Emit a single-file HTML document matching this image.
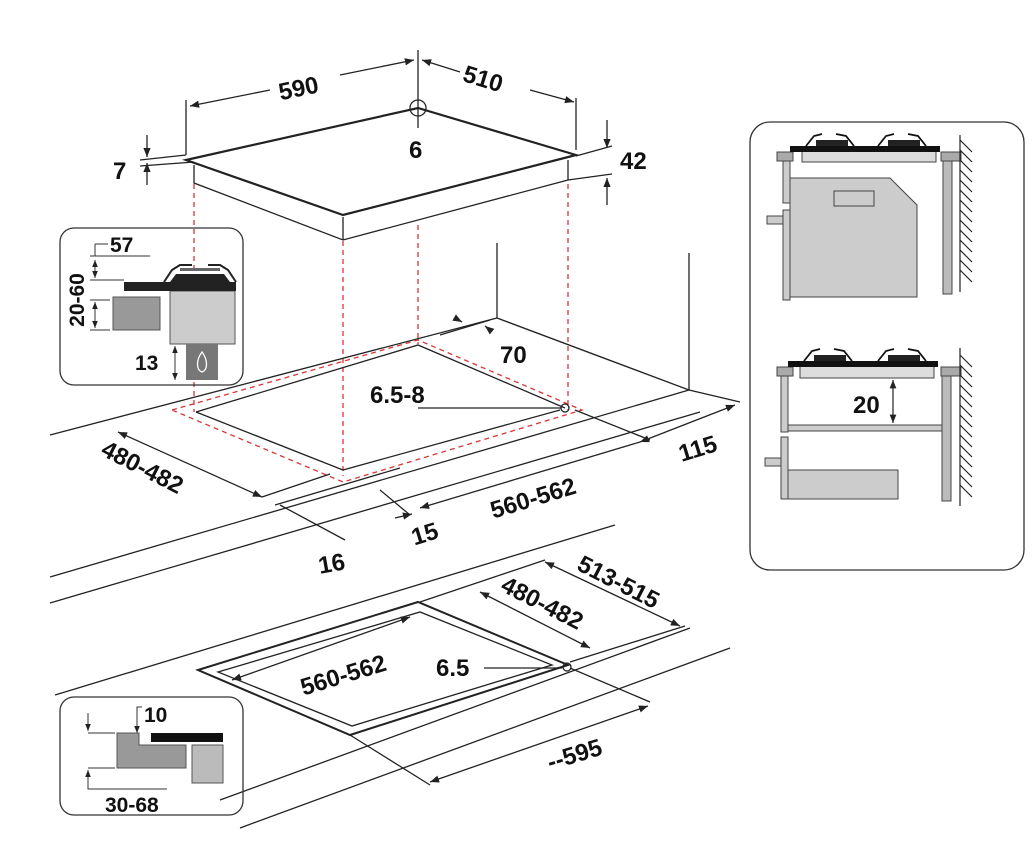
<!DOCTYPE html>
<html><head><meta charset="utf-8"><style>
html,body{margin:0;padding:0;background:#fff;}
svg{display:block}
text{font-family:"Liberation Sans",sans-serif;font-weight:bold;font-size:24px;fill:#111;}
</style></head><body>
<svg width="1032" height="856" viewBox="0 0 1032 856" xmlns="http://www.w3.org/2000/svg">
<defs>
<marker id="a" viewBox="0 0 10 10" refX="10" refY="5" markerWidth="7" markerHeight="7" orient="auto-start-reverse"><path d="M0,1 L10,5 L0,9 z" fill="#222"/></marker>
</defs>
<g stroke="#222" fill="none" stroke-width="1.3">
<path d="M186,160 L418,108 L576,155 L343,215 Z" stroke-width="2.2" fill="#fff"/>
<path d="M194,165 L194,183 L343,240 L568,180 L568,160"/>
<path d="M343,217 L343,240"/>
<circle cx="418" cy="108" r="8"/>
<line x1="418" y1="50" x2="418" y2="128"/>
<line x1="186" y1="155" x2="186" y2="100"/>
<line x1="576" y1="150" x2="576" y2="98"/>
<line x1="190" y1="106" x2="270" y2="90" marker-start="url(#a)"/>
<line x1="340" y1="75" x2="414" y2="60" marker-end="url(#a)"/>
<line x1="422" y1="60" x2="460" y2="72" marker-start="url(#a)"/>
<line x1="530" y1="90" x2="574" y2="102" marker-end="url(#a)"/>
<line x1="147" y1="135" x2="147" y2="157" marker-end="url(#a)"/>
<line x1="147" y1="185" x2="147" y2="163" marker-end="url(#a)"/>
<line x1="140" y1="160" x2="186" y2="155"/>
<line x1="140" y1="166" x2="194" y2="162"/>
<line x1="607" y1="120" x2="607" y2="148" marker-end="url(#a)"/>
<line x1="607" y1="205" x2="607" y2="178" marker-end="url(#a)"/>
<line x1="576" y1="156" x2="612" y2="146"/>
<line x1="568" y1="180" x2="612" y2="174"/>
</g>
<g stroke="#d33" stroke-width="1.3" stroke-dasharray="5,4" fill="none">
<line x1="194" y1="184" x2="194" y2="412"/>
<line x1="343" y1="241" x2="343" y2="476"/>
<line x1="418" y1="225" x2="418" y2="344"/>
<line x1="568" y1="184" x2="568" y2="410"/>
<path d="M172,410 L418,340 L582,410 L343,482 Z"/>
</g>
<g stroke="#222" fill="none" stroke-width="1.3">
<line x1="50" y1="435" x2="497" y2="318"/>
<line x1="497" y1="243" x2="497" y2="318"/>
<line x1="497" y1="318" x2="689" y2="390"/>
<line x1="689" y1="253" x2="689" y2="390"/>
<line x1="50" y1="577" x2="689" y2="390"/>
<line x1="50" y1="603" x2="700" y2="412"/>
<path d="M196,412 L418,345 L565,408 M343,470 L196,412"/>
<line x1="343" y1="470" x2="560" y2="410"/>
<circle cx="565" cy="408" r="4"/>
<line x1="418" y1="408" x2="561" y2="408"/>
<line x1="689" y1="390" x2="740" y2="402"/>
<line x1="118" y1="432" x2="262" y2="497" marker-start="url(#a)" marker-end="url(#a)"/>
<line x1="262" y1="497" x2="330" y2="474"/>
<line x1="420" y1="508" x2="640" y2="442" marker-start="url(#a)"/>
<line x1="640" y1="442" x2="735" y2="405" marker-end="url(#a)" marker-start="url(#a)"/>
<line x1="575" y1="410" x2="650" y2="440"/>
<line x1="275" y1="505" x2="400" y2="468"/>
<line x1="280" y1="505" x2="345" y2="540"/>
<line x1="380" y1="490" x2="410" y2="515"/>
<line x1="395" y1="518" x2="412" y2="514" marker-end="url(#a)"/>
<line x1="455" y1="318" x2="462" y2="322" marker-end="url(#a)"/>
<line x1="490" y1="330" x2="485" y2="326" marker-end="url(#a)"/>
<line x1="440" y1="335" x2="490" y2="320"/>
<line x1="55" y1="695" x2="615" y2="525"/>
<line x1="220" y1="800" x2="690" y2="628"/>
<line x1="240" y1="828" x2="730" y2="648"/>
<path d="M198,670 L418,602 L568,665 L350,735 Z" stroke-width="2"/>
<path d="M218,672 L420,612 L552,665 L352,726 Z"/>
<circle cx="567" cy="667" r="4"/>
<line x1="484" y1="668" x2="562" y2="668"/>
<line x1="420" y1="602" x2="545" y2="560"/>
<line x1="545" y1="562" x2="680" y2="626" marker-start="url(#a)" marker-end="url(#a)"/>
<line x1="570" y1="662" x2="685" y2="626"/>
<line x1="480" y1="592" x2="590" y2="648" marker-start="url(#a)" marker-end="url(#a)"/>
<line x1="232" y1="680" x2="410" y2="617" marker-start="url(#a)" marker-end="url(#a)"/>
<line x1="570" y1="668" x2="650" y2="702"/>
<line x1="350" y1="735" x2="430" y2="785"/>
<line x1="430" y1="782" x2="648" y2="706" marker-start="url(#a)" marker-end="url(#a)"/>
</g>
<text x="278" y="95" transform="rotate(-12 305 85)">590</text>
<text x="463" y="89" transform="rotate(17 490 80)">510</text>
<text x="409" y="158">6</text>
<text x="113" y="179">7</text>
<text x="620" y="169">42</text>
<text x="500" y="363">70</text>
<text x="370" y="403">6.5-8</text>
<text x="98" y="479" transform="rotate(27 150 470)">480-482</text>
<text x="488" y="507" transform="rotate(-17 530 495)">560-562</text>
<text x="411" y="541" transform="rotate(-17 428 532)">15</text>
<text x="318" y="571" transform="rotate(-10 335 562)">16</text>
<text x="678" y="456" transform="rotate(-17 700 447)">115</text>
<text x="573" y="596" transform="rotate(27 630 588)">513-515</text>
<text x="497" y="616" transform="rotate(27 552 608)">480-482</text>
<text x="298" y="681" transform="rotate(-17 350 670)">560-562</text>
<text x="436" y="676">6.5</text>
<text x="546" y="761" transform="rotate(-17 580 752)">--595</text>
<!-- left inset -->
<rect x="60" y="228" width="183" height="157" rx="14" fill="none" stroke="#333" stroke-width="1.3"/>
<g stroke="#333" stroke-width="1" fill="none">
<path d="M95,244 L108,244 M95,244 L95,256 M90,256 L150,256 M90,280 L124,280 M90,300 L110,300 M90,330 L110,330"/>
<line x1="95" y1="260" x2="95" y2="278" marker-start="url(#a)" marker-end="url(#a)"/>
<line x1="95" y1="302" x2="95" y2="328" marker-start="url(#a)" marker-end="url(#a)"/>
<line x1="175" y1="346" x2="175" y2="380" marker-start="url(#a)" marker-end="url(#a)"/>
</g>
<rect x="113" y="297" width="47" height="33" fill="#999" stroke="#555"/>
<rect x="170" y="291" width="65" height="53" fill="#ccc" stroke="#555"/>
<rect x="186" y="344" width="32" height="36" fill="#777"/>
<path d="M202,352 C196,360 196,370 202,372 C208,370 208,360 202,352 Z" fill="none" stroke="#fff" stroke-width="1.3"/>
<rect x="124" y="282" width="112" height="9" fill="#222"/>
<path d="M170,282 L176,274 L224,274 L230,282 Z" fill="#222"/>
<path d="M164,282 L172,270 L180,265 L192,265 M208,265 L220,265 L228,270 L236,282" stroke="#222" stroke-width="2" fill="none"/>
<rect x="180" y="268" width="40" height="3" fill="#666"/>
<text x="110" y="252" style="font-size:21px">57</text>
<text transform="translate(84,300) rotate(-90)" text-anchor="middle" style="font-size:21px">20-60</text>
<text x="135" y="370" style="font-size:21px">13</text>
<!-- bottom inset -->
<rect x="60" y="697" width="183" height="118" rx="14" fill="none" stroke="#333" stroke-width="1.3"/>
<g stroke="#333" stroke-width="1" fill="none">
<path d="M88,733 L115,733 M88,768 L115,768 M88,776 L88,789 L167,789 M137,724 L137,707 L142,707"/>
<line x1="88" y1="713" x2="88" y2="731" marker-end="url(#a)"/>
<line x1="88" y1="788" x2="88" y2="770" marker-end="url(#a)"/>
<line x1="137" y1="713" x2="137" y2="733" marker-end="url(#a)"/>
<line x1="137" y1="760" x2="137" y2="742" marker-end="url(#a)"/>
</g>
<path d="M117,733 L139,733 L139,745 L186,745 L186,768 L117,768 Z" fill="#999" stroke="#555"/>
<rect x="151" y="733" width="72" height="9" fill="#111"/>
<rect x="192" y="745" width="31" height="38" fill="#bbb" stroke="#555"/>
<text x="144" y="722" style="font-size:21px">10</text>
<text x="105" y="812" style="font-size:21px">30-68</text>
<!-- right inset -->
<rect x="750" y="122" width="274" height="448" rx="20" fill="none" stroke="#333" stroke-width="1.3"/>
<g stroke="#444" stroke-width="1">
<rect x="777" y="152" width="16" height="9" fill="#aaa"/>
<rect x="941" y="152" width="20" height="9" fill="#aaa"/>
<rect x="802" y="150" width="134" height="12" fill="#ddd"/>
<rect x="783" y="161" width="7" height="42" fill="#ccc"/>
<rect x="783" y="210" width="7" height="90" fill="#ccc"/>
<rect x="767" y="216" width="16" height="8" fill="#ccc"/>
<path d="M790,178 L890,178 L917,205 L917,297 L790,297 Z" fill="#ccc"/>
<rect x="834" y="191" width="40" height="15" fill="#ccc"/>
<rect x="943" y="161" width="9" height="133" fill="#bbb"/>
<rect x="777" y="367" width="16" height="9" fill="#aaa"/>
<rect x="941" y="367" width="20" height="9" fill="#aaa"/>
<rect x="800" y="365" width="134" height="13" fill="#ddd"/>
<rect x="781" y="376" width="7" height="56" fill="#ccc"/>
<rect x="788" y="425" width="154" height="6" fill="#ccc"/>
<rect x="781" y="437" width="7" height="62" fill="#ccc"/>
<rect x="765" y="458" width="16" height="8" fill="#ccc"/>
<rect x="788" y="470" width="110" height="29" fill="#ccc"/>
<rect x="942" y="376" width="9" height="125" fill="#bbb"/>
</g>
<g fill="#111">
<rect x="790" y="146" width="150" height="6"/>
<rect x="788" y="361" width="150" height="6"/>
</g>
<g stroke="#111" stroke-width="1.8" fill="none">
<path d="M806,146 L814,136 L822,134 M836,134 L846,136 L854,146"/>
<path d="M878,146 L886,136 L894,134 M908,134 L918,136 L926,146"/>
<path d="M804,361 L812,351 L820,349 M834,349 L844,351 L852,361"/>
<path d="M878,361 L886,351 L894,349 M908,349 L918,351 L926,361"/>
</g>
<g fill="#222"><rect x="816" y="140" width="32" height="6"/><rect x="888" y="140" width="32" height="6"/><rect x="814" y="355" width="32" height="6"/><rect x="888" y="355" width="32" height="6"/></g>
<g stroke="#222" stroke-width="1.2" fill="none">
<line x1="960" y1="135" x2="960" y2="292"/>
<line x1="960" y1="348" x2="960" y2="506"/>
<path d="M960,140 l12,12 M960,150 l12,12 M960,160 l12,12 M960,170 l12,12 M960,180 l12,12 M960,190 l12,12 M960,200 l12,12 M960,210 l12,12 M960,220 l12,12 M960,230 l12,12 M960,240 l12,12 M960,250 l12,12 M960,260 l12,12 M960,270 l12,12"/>
<path d="M960,355 l12,12 M960,365 l12,12 M960,375 l12,12 M960,385 l12,12 M960,395 l12,12 M960,405 l12,12 M960,415 l12,12 M960,425 l12,12 M960,435 l12,12 M960,445 l12,12 M960,455 l12,12 M960,465 l12,12 M960,475 l12,12 M960,485 l12,12"/>
<line x1="893" y1="380" x2="893" y2="423" marker-start="url(#a)" marker-end="url(#a)"/>
</g>
<text x="853" y="413">20</text>
</svg>
</body></html>
